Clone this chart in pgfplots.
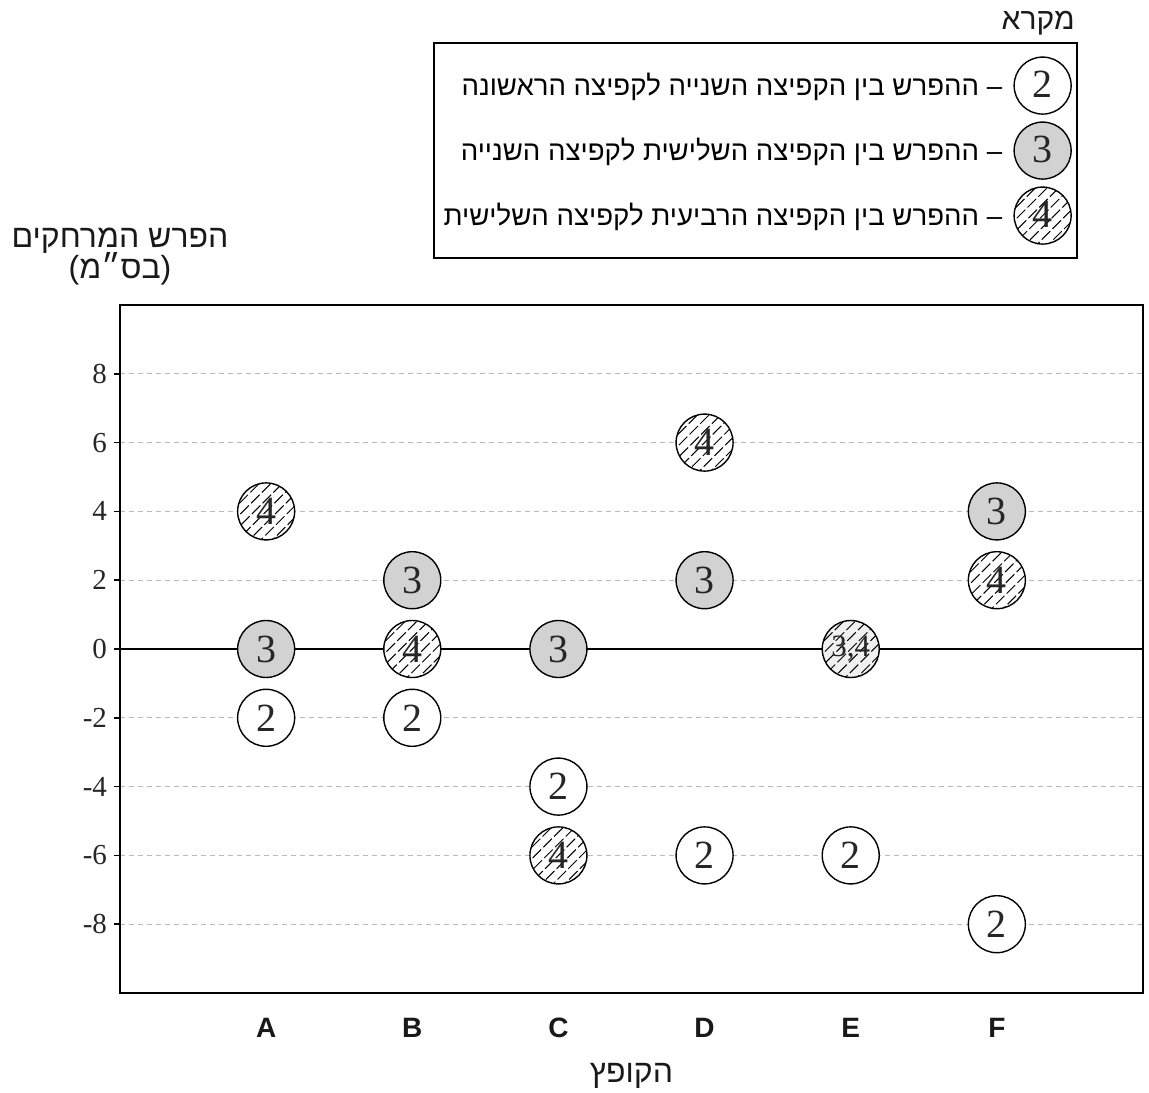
\documentclass[border=0pt]{standalone}
\usepackage{fontspec}
\setmainfont{Liberation Serif}
\newfontfamily\heb[Script=Hebrew]{Liberation Sans}
\newfontfamily\lat{Liberation Sans}
\TeXXeTstate=1
\usepackage{pgfplots}
\pgfplotsset{compat=1.18}

% circle with dashed diagonal hatching, filled with the current fill colour
\pgfdeclareplotmark{hatchcirc}{%
  \pgfpathcircle{\pgfpointorigin}{\pgfplotmarksize}%
  \pgfusepathqfill
  \begin{pgfscope}
    \pgfpathcircle{\pgfpointorigin}{\pgfplotmarksize}%
    \pgfusepath{clip}%
    \pgfsetlinewidth{0.5pt}%
    \pgfsetdash{{6pt}{1.6pt}}{2pt}%
    \foreach \k in {-5,...,5}{%
      \pgfpathmoveto{\pgfpoint{\k*5.8pt-16pt}{-16pt}}%
      \pgfpathlineto{\pgfpoint{\k*5.8pt+16pt}{16pt}}%
    }%
    \pgfusepathqstroke
  \end{pgfscope}
  \pgfpathcircle{\pgfpointorigin}{\pgfplotmarksize}%
  \pgfusepathqstroke
}

\newcommand\numfont{\fontsize{20}{22}\selectfont\color{black!85}}
\newcommand\numfontsmall{\fontsize{15.5}{17}\selectfont\color{black!85}}
\newcommand\hebsize{\heb\fontsize{13.8}{16}\selectfont}
\newcommand\tf{3,4}

\pgfplotsset{
  numleg/.style={legend image code/.code={%
    \draw[##1] plot coordinates {(14.25pt,0pt)};
    \node[anchor=center, inner sep=0pt, font=\numfont] at (14.25pt,0pt) {#1};}},
}

\begin{document}
\begin{tikzpicture}
\begin{axis}[
  width=511.5pt, height=344pt, scale only axis,
  xmin=-1, xmax=6, ymin=-10, ymax=10,
  axis line style={line width=0.9pt},
  xtick={0,1,2,3,4,5},
  xticklabels={A,B,C,D,E,F},
  major x tick style={draw=none},
  xticklabel style={font=\lat\bfseries\fontsize{14}{16}\selectfont, text=black!90, yshift=-6pt},
  ytick={-8,-6,-4,-2,2,4,6,8},
  extra y ticks={0},
  extra y tick style={grid style={solid, black, line width=0.8pt}},
  ytick pos=left,
  yticklabel style={font=\fontsize{14.5}{16}\selectfont, text=black!85},
  /pgf/number format/assume math mode=true,
  tick align=outside, major tick length=3pt,
  tick style={black, line width=0.8pt},
  ymajorgrids=true,
  grid style={dashed, gray!55, line width=0.6pt, dash pattern=on 2.5pt off 2pt},
  xlabel={\heb\fontsize{16}{18}\selectfont\beginR הקופץ\endR},
  xlabel style={yshift=-6pt, text=black!90},
  clip=false,
  legend style={at={(0.9365,1.382)}, anchor=north east, draw=black, line width=0.9pt,
    font=\hebsize, row sep=4pt, inner xsep=3pt, inner ysep=7pt,
    column sep=4pt, cells={anchor=east}},
  legend cell align=right,
  legend plot pos=right,
  every node near coord/.append style={anchor=center, font=\numfont},
]

\addplot[only marks, mark=*, mark size=14.25pt,
  mark options={draw=black, fill=white, line width=0.7pt},
  nodes near coords={2}, numleg=2]
  coordinates {(0,-2) (1,-2) (2,-4) (3,-6) (4,-6) (5,-8)};
\addlegendentry{\beginR – ההפרש בין הקפיצה השנייה לקפיצה הראשונה\endR}

\addplot[only marks, mark=*, mark size=14.25pt,
  mark options={draw=black, fill=gray!35, line width=0.7pt},
  nodes near coords={3}, numleg=3]
  coordinates {(0,0) (1,2) (2,0) (3,2) (5,4)};
\addlegendentry{\beginR – ההפרש בין הקפיצה השלישית לקפיצה השנייה\endR}

\addplot[only marks, mark=hatchcirc, mark size=14.25pt,
  mark options={draw=black, fill=white, line width=0.7pt},
  nodes near coords={4}, numleg=4]
  coordinates {(0,4) (1,0) (2,-6) (3,6) (5,2)};
\addlegendentry{\beginR – ההפרש בין הקפיצה הרביעית לקפיצה השלישית\endR}

% jumper E: third and fourth differences coincide
\addplot[forget plot, only marks, mark=hatchcirc, mark size=14.25pt,
  mark options={draw=black, fill=gray!12, line width=0.7pt},
  nodes near coords={\tf},
  every node near coord/.append style={font=\numfontsmall}]
  coordinates {(4,0)};

\node[anchor=center, font=\heb\fontsize{16}{18}\selectfont, text=black!90]
  at (axis description cs:0,1.094) {\beginR הפרש המרחקים\endR};
\node[anchor=center, font=\heb\fontsize{16}{18}\selectfont, text=black!90]
  at (axis description cs:0,1.053) {{\lat(}\beginR בס״מ\endR{\lat)}};
\node[anchor=east, inner sep=0pt, font=\heb\fontsize{15}{17}\selectfont, text=black!90]
  at (axis description cs:0.9335,1.41) {\beginR מקרא\endR};
\end{axis}
\pgfresetboundingbox
\path[use as bounding box] ([shift={(-60pt,-49.5pt)}]current axis.south west)
  rectangle ([shift={(3pt,152.5pt)}]current axis.north east);
\end{tikzpicture}
\end{document}
